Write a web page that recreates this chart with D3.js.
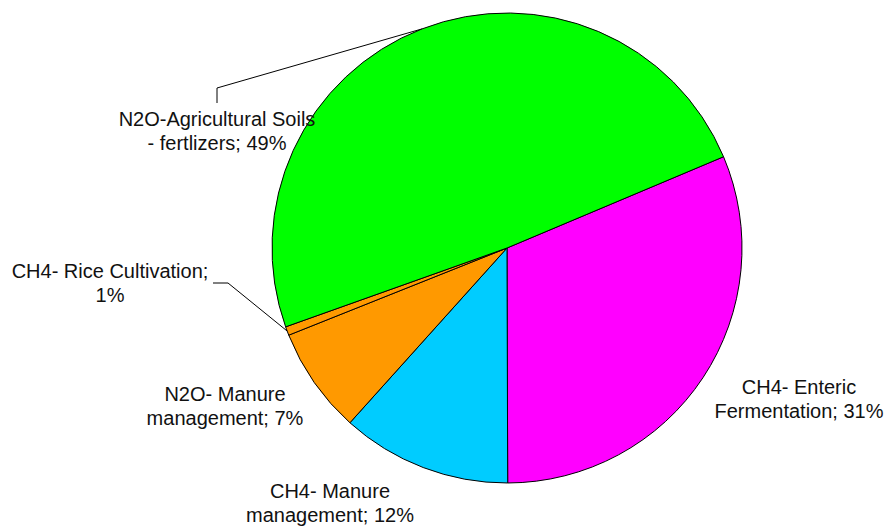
<!DOCTYPE html>
<html>
<head>
<meta charset="utf-8">
<script src="https://cdn.jsdelivr.net/npm/d3@7"></script>
<style>
  body { margin: 0; background: #fff; }
  text { font-family: "Liberation Sans", Arial, sans-serif; font-size: 20px; fill: #111; }
</style>
</head>
<body>
<div id="chart"></div>
<script>
// categories, in the drawing order (clockwise)
const categories = [
    "CH4- Enteric Fermentation",
    "CH4- Manure management",
    "N2O- Manure management",
    "CH4- Rice Cultivation",
    "N2O-Agricultural Soils - fertlizers"
];
// share of emissions, percent
const shares = [31.3, 11.7, 7.3, 0.6, 49.1];
// label text, split in lines
const labelLines = [
    ["CH4- Enteric", "Fermentation; 31%"],
    ["CH4- Manure", "management; 12%"],
    ["N2O- Manure", "management; 7%"],
    ["CH4- Rice Cultivation;", "1%"],
    ["N2O-Agricultural Soils", "- fertlizers; 49%"]
];
const colors = ["#ff00ff", "#00ccff", "#ff9900", "#ff9900", "#00ff00"];

// layout
const width = 890, height = 529;
const cx = 507, cy = 248, radius = 235;
const lineHeight = 23.5;

// where each label sits (centre x, first baseline) and its leader line elbow
const labelLayout = [
    { x: 799, y: 394 },
    { x: 330, y: 498 },
    { x: 225, y: 401 },
    { x: 110, y: 278, leader: [[213, 283], [228, 283]] },
    { x: 217, y: 126, leader: [[217, 103], [217, 88]] }
];

let svg = d3.select("#chart").append("svg")
    .attr("width", width)
    .attr("height", height);

let g = svg.append("g")
    .attr("transform", "translate(" + cx + "," + cy + ")");

let pie = d3.pie()
    .sort(null)
    .startAngle(67.15 * Math.PI / 180)
    .endAngle(67.15 * Math.PI / 180 + 2 * Math.PI)
    .value(d => d);

let arcs = pie(shares);

let arc = d3.arc()
    .innerRadius(0)
    .outerRadius(radius);

// arc that gives points on the rim, for the leader lines
let rimArc = d3.arc()
    .innerRadius(radius)
    .outerRadius(radius);

g.selectAll(".slice")
    .data(arcs)
    .enter().append("path")
    .attr("class", "slice")
    .attr("d", arc)
    .attr("fill", (d, i) => colors[i])
    .attr("stroke", "#000")
    .attr("stroke-width", 1)
    .attr("stroke-linejoin", "round");

// leader lines
arcs.forEach((d, i) => {
    let lay = labelLayout[i];
    if (!lay.leader) return;
    let rim = rimArc.centroid(d);
    let pts = lay.leader.concat([[rim[0] + cx, rim[1] + cy]]);
    svg.append("path")
        .attr("d", d3.line()(pts))
        .attr("fill", "none")
        .attr("stroke", "#000")
        .attr("stroke-width", 1);
});

// labels
let labels = svg.selectAll(".label")
    .data(categories)
    .enter().append("text")
    .attr("class", "label")
    .attr("text-anchor", "middle")
    .attr("x", (d, i) => labelLayout[i].x)
    .attr("y", (d, i) => labelLayout[i].y);

labels.each(function(d, i) {
    d3.select(this).selectAll("tspan")
        .data(labelLines[i])
        .enter().append("tspan")
        .attr("x", labelLayout[i].x)
        .attr("dy", (t, j) => j === 0 ? 0 : lineHeight)
        .text(t => t);
});
</script>
</body>
</html>
